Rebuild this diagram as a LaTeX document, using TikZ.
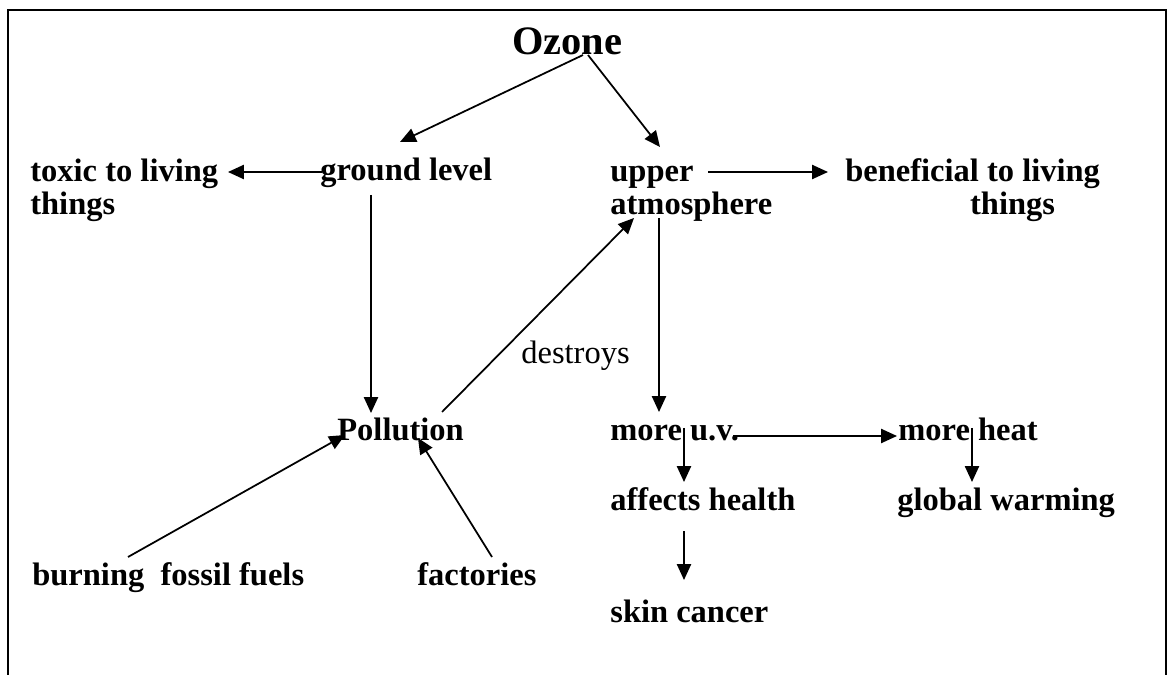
\documentclass[tikz,border=0pt]{standalone}
\usepackage{fontspec}
\setmainfont{Liberation Serif}
\usetikzlibrary{arrows.meta,calc}

\begin{document}
\begin{tikzpicture}[x=0.02cm, y=-0.02cm, >={Triangle[length=9pt,width=8pt]},
    lbl/.style={anchor=base west, inner sep=0pt, align=left,
      font=\fontsize{18.5}{19.3}\selectfont\bfseries},
    link/.style={->, line width=1pt}]

  \useasboundingbox (0,0) rectangle (1170,675);

  % --- Marco ---
  \draw[line width=1.2pt] (8,680) -- (8,10) -- (1166,10) -- (1166,680);

  % --- Conceptos (dos líneas: base en la segunda) ---
  \node[lbl, font=\fontsize{23}{26}\selectfont\bfseries] (ozone) at (512,55) {Ozone};
  \node[lbl] (toxic)   at (30,215)  {toxic to living\\things};
  \node[lbl] (ground)  at (320,181) {ground level};
  \node[lbl] (upper)   at (610,215) {upper\\atmosphere};
  \node[lbl] (benef)   at (845,215) {beneficial to living\\\hspace*{71pt}things};
  \node[lbl] (pollut)  at (337,440) {Pollution};
  \node[lbl] (moreuv)  at (610,440) {more u.v.};
  \node[lbl] (heat)    at (898,440) {more heat};
  \node[lbl] (health)  at (610,510) {affects health};
  \node[lbl] (warming) at (897,510) {global warming};
  \node[lbl] (fossil)  at (32,585)  {burning\ \ fossil fuels};
  \node[lbl] (factory) at (417,585) {factories};
  \node[lbl] (skin)    at (610,622) {skin cancer};
  \node[lbl, font=\fontsize{18.5}{20}\selectfont] (destroy) at (521,364) {destroys};

  % --- Ramas del ozono ---
  \draw[link] ($(ozone.base west)+(71,0)$) -- ($(ground.base west)+(80,-39)$);
  \draw[link] ($(ozone.base west)+(76,0)$) -- ($(upper.base west)+(50,-68)$);
  \draw[link] ($(ground.base west)+(2,-9)$) -- ($(toxic.base west)+(198,-43)$);
  \draw[link] ($(upper.base west)+(98,-43)$) -- ($(benef.base west)+(-17,-43)$);

  % --- Contaminación ---
  \draw[link] ($(ground.base west)+(51,14)$) -- ($(pollut.base west)+(34,-27)$);
  \draw[link] ($(pollut.base west)+(105,-28)$) -- ($(upper.base west)+(24,3)$);
  \draw[link] ($(fossil.base west)+(96,-28)$) -- ($(pollut.base west)+(8,-5)$);
  \draw[link] ($(factory.base west)+(75,-28)$) -- ($(pollut.base west)+(81,-2)$);

  % --- Consecuencias ---
  \draw[link] ($(upper.base west)+(49,3)$) -- ($(moreuv.base west)+(49,-28)$);
  \draw[link] ($(moreuv.base west)+(123,-4)$) -- ($(heat.base west)+(-1,-4)$);
  \draw[link] ($(moreuv.base west)+(74,-12)$) -- ($(health.base west)+(74,-28)$);
  \draw[link] ($(heat.base west)+(74,-12)$) -- ($(warming.base west)+(75,-28)$);
  \draw[link] ($(health.base west)+(74,21)$) -- ($(skin.base west)+(74,-42)$);

\end{tikzpicture}
\end{document}
